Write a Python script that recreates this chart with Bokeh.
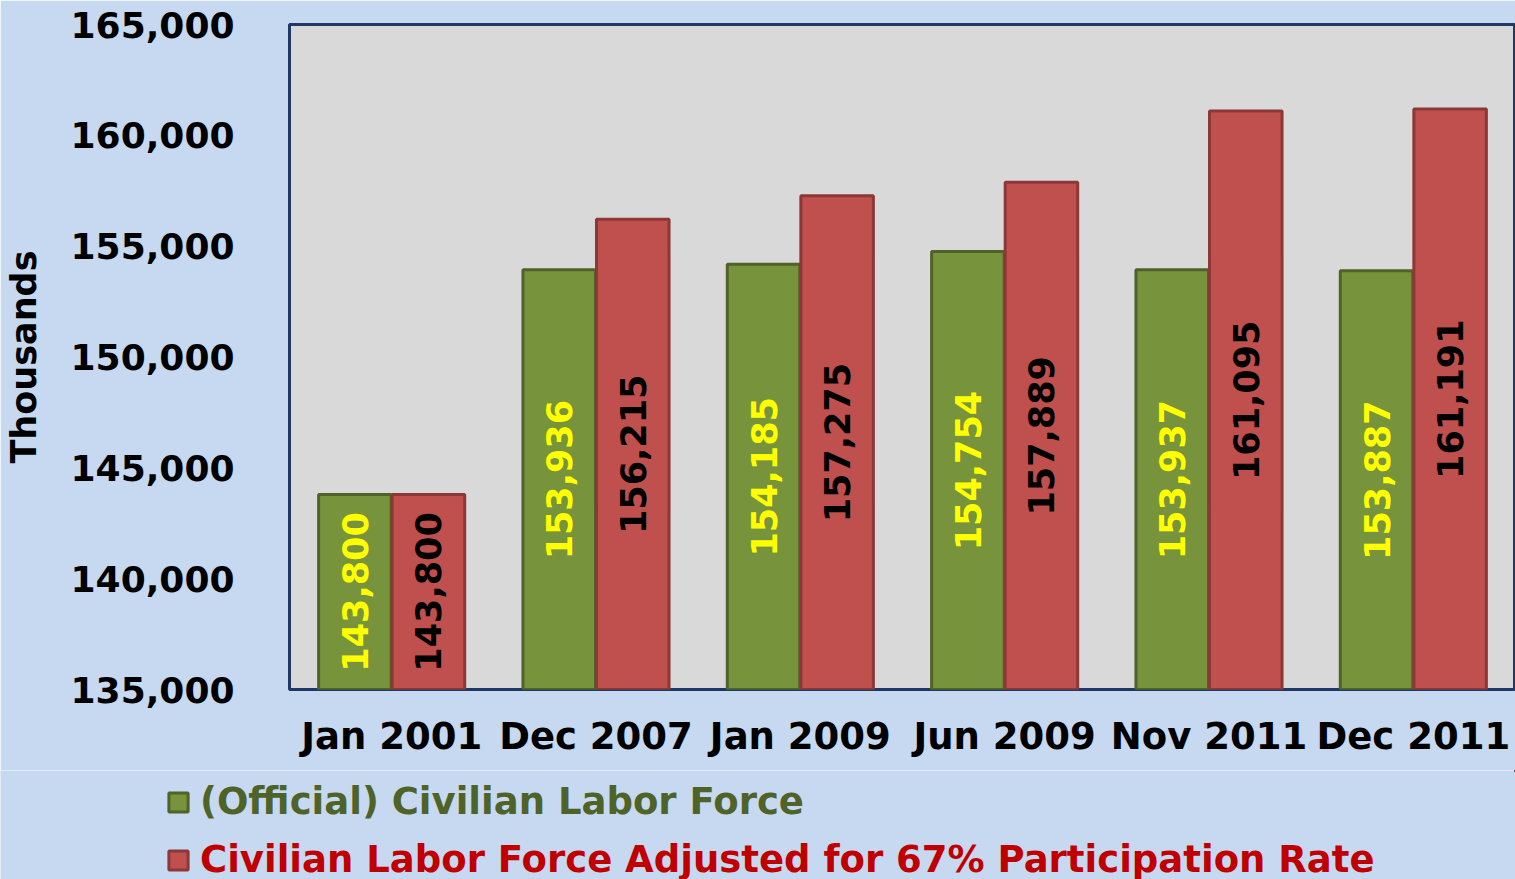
import math
from bokeh.plotting import figure
from bokeh.models import (ColumnDataSource, FactorRange, Range1d, Legend, LegendItem,
                          NumeralTickFormatter, FixedTicker)
from bokeh.transform import dodge
from bokeh.embed import file_html
from bokeh.resources import INLINE
from bokeh.core.properties import value

categories = ["Jan 2001", "Dec 2007", "Jan 2009", "Jun 2009", "Nov 2011", "Dec 2011"]
official = [143800, 153936, 154185, 154754, 153937, 153887]
adjusted = [143800, 156215, 157275, 157889, 161095, 161191]
y_ticks = [135000, 140000, 145000, 150000, 155000, 160000, 165000]
series_names = ["(Official) Civilian Labor Force",
                "Civilian Labor Force Adjusted for 67% Participation Rate"]
y_min, y_max = 135000, 165000

GREEN, GREEN_EDGE = "#77933c", "#4f6228"
RED, RED_EDGE = "#c0504d", "#8c3836"
BG = "#c6d9f1"
FONT = value("DejaVu Sans")

src = ColumnDataSource(dict(
    cat=categories,
    official=official,
    adjusted=adjusted,
    off_mid=[(y_min + v) / 2 for v in official],
    adj_mid=[(y_min + v) / 2 for v in adjusted],
    off_lbl=[f"{v:,}" for v in official],
    adj_lbl=[f"{v:,}" for v in adjusted],
))

p = figure(width=1515, height=770, x_range=FactorRange(*categories),
           y_range=Range1d(y_min, y_max), output_backend="svg", toolbar_location=None,
           min_border_left=287, min_border_top=24, min_border_right=0, min_border_bottom=81)

p.border_fill_color = BG
p.background_fill_color = "#d9d9d9"
p.outline_line_color = "#1f3864"
p.outline_line_width = 3
p.xgrid.grid_line_color = None
p.ygrid.grid_line_color = None

p.vbar(x=dodge("cat", -0.18, range=p.x_range), top="official", bottom=y_min, width=0.355,
       source=src, fill_color=GREEN, line_color=GREEN_EDGE, line_width=3)
p.vbar(x=dodge("cat", 0.18, range=p.x_range), top="adjusted", bottom=y_min, width=0.355,
       source=src, fill_color=RED, line_color=RED_EDGE, line_width=3)

p.text(x=dodge("cat", -0.18, range=p.x_range), y="off_mid", text="off_lbl", source=src,
       angle=math.pi / 2, text_align="center", text_baseline="middle",
       text_font=FONT, text_font_style="bold", text_font_size="35px", text_color="#ffff00")
p.text(x=dodge("cat", 0.18, range=p.x_range), y="adj_mid", text="adj_lbl", source=src,
       angle=math.pi / 2, text_align="center", text_baseline="middle",
       text_font=FONT, text_font_style="bold", text_font_size="35px", text_color="#000000")

# y axis
p.yaxis.ticker = FixedTicker(ticks=y_ticks)
p.yaxis.formatter = NumeralTickFormatter(format="0,0")
p.yaxis.axis_line_color = None
p.yaxis.major_tick_line_color = None
p.yaxis.minor_tick_line_color = None
p.yaxis.major_label_text_font = "DejaVu Sans"
p.yaxis.major_label_text_font_style = "bold"
p.yaxis.major_label_text_font_size = "36px"
p.yaxis.major_label_text_color = "#000000"
p.yaxis.major_label_standoff = 49
p.yaxis.axis_label = "Thousands"
p.yaxis.axis_label_text_font = "DejaVu Sans"
p.yaxis.axis_label_text_font_style = "bold"
p.yaxis.axis_label_text_font_size = "35px"
p.yaxis.axis_label_text_color = "#000000"
p.yaxis.axis_label_standoff = 24

# x axis
p.xaxis.axis_line_color = None
p.xaxis.major_tick_line_color = None
p.xaxis.minor_tick_line_color = None
p.xaxis.major_label_text_font = "DejaVu Sans"
p.xaxis.major_label_text_font_style = "bold"
p.xaxis.major_label_text_font_size = "37px"
p.xaxis.major_label_text_color = "#000000"
p.xaxis.major_label_standoff = 19

# legend strip below the chart (the series renderers here fall outside its view)
lf = figure(width=1515, height=109, x_range=Range1d(0, 1), y_range=Range1d(0, 1),
            x_axis_type=None, y_axis_type=None, output_backend="svg", toolbar_location=None,
            min_border=0)
lf.border_fill_color = BG
lf.background_fill_color = BG
lf.outline_line_color = None
lf.xgrid.grid_line_color = None
lf.ygrid.grid_line_color = None
g1 = lf.vbar(x="official", top="official", bottom=y_min, width=0.1, source=src,
             fill_color=GREEN, line_color=GREEN_EDGE, line_width=3)
g2 = lf.vbar(x="adjusted", top="adjusted", bottom=y_min, width=0.1, source=src,
             fill_color=RED, line_color=RED_EDGE, line_width=3)

common = dict(margin=0, padding=0, border_line_color=None, background_fill_alpha=0,
              glyph_width=24, glyph_height=24, label_standoff=10,
              label_text_font="DejaVu Sans", label_text_font_style="bold",
              label_text_font_size="37px")
leg1 = Legend(items=[LegendItem(label=series_names[0], renderers=[g1])],
              location=(166, 56), label_text_color="#4f6228", **common)
leg2 = Legend(items=[LegendItem(label=series_names[1], renderers=[g2])],
              location=(166, -2), label_text_color="#c00000", **common)
lf.add_layout(leg1, "center")
lf.add_layout(leg2, "center")

open("out.html", "w").write(file_html([p, lf], INLINE))
